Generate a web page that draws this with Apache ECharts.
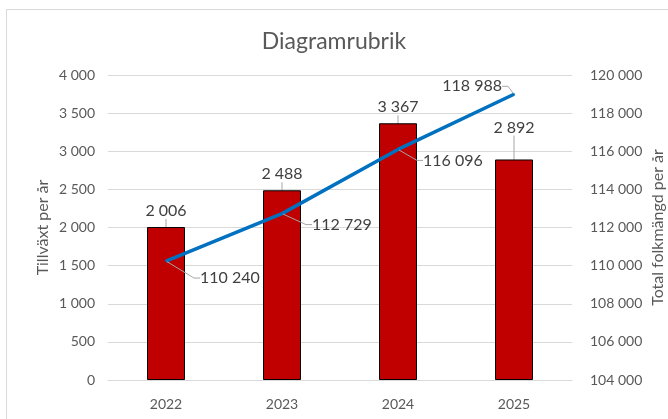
<!DOCTYPE html>
<html>
<head>
<meta charset="utf-8">
<script src="https://cdn.jsdelivr.net/npm/echarts@6/dist/echarts.min.js"></script>
<style>html,body{margin:0;padding:0;background:#fff;}#c{width:668px;height:419px;}</style>
</head>
<body>
<div id="c"></div>
<script>
const categories = ['2022', '2023', '2024', '2025'];
const growth = [2006, 2488, 3367, 2892];
const population = [110240, 112729, 116096, 118988];
const leftTicks = {min: 0, max: 4000, interval: 500};
const rightTicks = {min: 104000, max: 120000, interval: 2000};
const title = 'Diagramrubrik';
const leftName = 'Tillväxt per år';
const rightName = 'Total folkmängd per år';

const FONT = 'Lato, "Open Sans", sans-serif';
const fmt = v => String(v).replace(/\B(?=(\d{3})+(?!\d))/g, ' ');

const chart = echarts.init(document.getElementById('c'), null, {renderer: 'canvas'});
// label offsets from the point (callout placement)
const lineOffsets = [[34, 17, 'left'], [30, 11, 'left'], [25, 11, 'left'], [-12, -8, 'right']];
chart.setOption({
  animation: false,
  textStyle: {fontFamily: FONT},
  graphic: [{type: 'rect', shape: {x: 6.5, y: 9.5, width: 700, height: 500}, style: {fill: 'none', stroke: '#D9D9D9', lineWidth: 1}, silent: true, z: -1}],
  title: {text: title, left: 'center', top: 25, textStyle: {fontFamily: FONT, fontSize: 23, fontWeight: 'normal', color: '#595959'}},
  grid: {left: 108, right: 96, top: 75, bottom: 39, containLabel: false, outerBoundsMode: 'none'},
  xAxis: {
    type: 'category', data: categories,
    axisLine: {lineStyle: {color: '#D9D9D9'}}, axisTick: {show: false},
    axisLabel: {color: '#595959', fontSize: 14, margin: 17, fontFamily: FONT}
  },
  yAxis: [{
    type: 'value', min: leftTicks.min, max: leftTicks.max, interval: leftTicks.interval,
    name: leftName, nameLocation: 'middle', nameRotate: 90, nameGap: 57, nameMoveOverlap: false,
    nameTextStyle: {color: '#595959', fontSize: 16, fontFamily: FONT},
    axisLabel: {color: '#595959', fontSize: 14, margin: 13, formatter: fmt, fontFamily: FONT},
    splitLine: {lineStyle: {color: '#D9D9D9'}}, axisLine: {show: false}, axisTick: {show: false}
  }, {
    type: 'value', min: rightTicks.min, max: rightTicks.max, interval: rightTicks.interval,
    name: rightName, nameLocation: 'middle', nameRotate: 90, nameGap: 78, nameMoveOverlap: false,
    nameTextStyle: {color: '#595959', fontSize: 16, fontFamily: FONT},
    axisLabel: {color: '#595959', fontSize: 14, margin: 18, formatter: fmt, fontFamily: FONT},
    splitLine: {show: false}, axisLine: {show: false}, axisTick: {show: false}
  }],
  series: [{
    type: 'bar', data: growth, yAxisIndex: 0, barWidth: 38,
    itemStyle: {color: '#C00000', borderColor: '#000', borderWidth: 1},
    label: {show: true, position: 'top', distance: 8, color: '#404040', fontSize: 16, fontFamily: FONT, formatter: p => fmt(p.value)},
    labelLine: {show: true, lineStyle: {color: '#A6A6A6', width: 1}},
    labelLayout: p => p.dataIndex === 3 ? {dy: -16} : {},
    z: 2
  }, {
    type: 'line', data: population,
    yAxisIndex: 1,
    lineStyle: {color: '#0070C0', width: 3.5}, itemStyle: {color: '#0070C0'},
    symbol: 'circle', symbolSize: 2, showSymbol: true,
    label: {show: true, position: 'right', distance: 5, color: '#404040', fontSize: 16, fontFamily: FONT, formatter: p => fmt(p.value)},
    labelLine: {show: true, length2: 6, lineStyle: {color: '#A6A6A6', width: 1}},
    labelLayout: p => {
      const o = lineOffsets[p.dataIndex];
      const cx = p.rect.x + p.rect.width / 2, cy = p.rect.y + p.rect.height / 2;
      return {x: cx + o[0], y: cy + o[1], align: o[2], verticalAlign: 'middle'};
    },
    z: 3
  }]
});
</script>
</body>
</html>
